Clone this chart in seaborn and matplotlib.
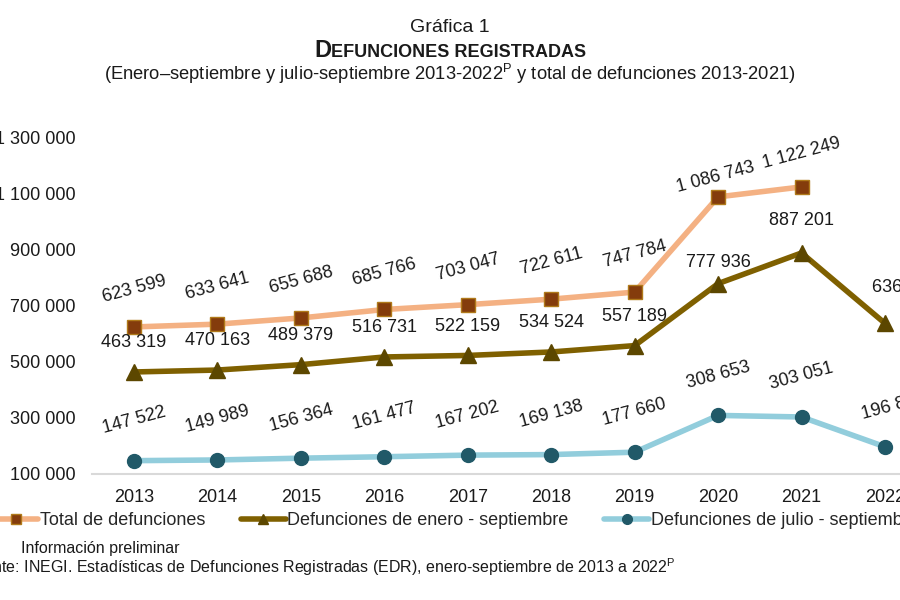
import numpy as np
import pandas as pd
import matplotlib
matplotlib.use("Agg")
import matplotlib.pyplot as plt
import seaborn as sns

# Datos
anios = ['2013', '2014', '2015', '2016', '2017', '2018', '2019', '2020', '2021', '2022']
total = [623599, 633641, 655688, 685766, 703047, 722611, 747784, 1086743, 1122249, np.nan]
enero_sep = [463319, 470163, 489379, 516731, 522159, 534524, 557189, 777936, 887201, 636486]
julio_sep = [147522, 149989, 156364, 161477, 167202, 169138, 177660, 308653, 303051, 196887]
yticks = [100000, 300000, 500000, 700000, 900000, 1100000, 1300000]

sns.set_style("white")
plt.rcParams['font.family'] = ['Liberation Sans', 'DejaVu Sans']
plt.rcParams['mathtext.fontset'] = 'custom'
plt.rcParams['mathtext.rm'] = 'Liberation Sans'

fig = plt.figure(figsize=(9, 6), dpi=100)
# el eje se sale del lienzo a la derecha, como en el recorte original
ax = fig.add_axes([92.3 / 900, 126 / 600, 834.4 / 900, 337 / 600])


def fmt(v):
    return f"{int(v):,}".replace(",", " ")


series = [
    ("Total de defunciones", total, '#F4B183', 's', '#843C0C', '#B07A1A', 10, 27, 15),
    ("Defunciones de enero - septiembre", enero_sep, '#7F6000', '^', '#5C4700', '#5C4700', 11, 21, 0),
    ("Defunciones de julio - septiembre", julio_sep, '#92CDDC', 'o', '#215968', '#215968', 10, 29, 15),
]

# ajustes manuales de algunas etiquetas (dx, dy en puntos)
ajustes = {
    (0, 7): (-2, -13), (0, 8): (0, -3),
    (1, 7): (0, -6), (1, 8): (0, 2), (1, 9): (14, 5),
    (2, 9): (6, 0),
}

for k, (nombre, valores, color, marca, cara, borde, ms, off, rot) in enumerate(series):
    sns.lineplot(x=anios, y=valores, ax=ax, sort=False, color=color, lw=4,
                 marker=marca, markersize=ms, markerfacecolor=cara,
                 markeredgecolor=borde, markeredgewidth=1, label=nombre)
    for i, v in enumerate(valores):
        if np.isnan(v):
            continue
        dx, dy = ajustes.get((k, i), (0, 0))
        ax.annotate(fmt(v), (i, v), xytext=(dx, off + dy), textcoords='offset points',
                    ha='center', va='center', rotation=rot, rotation_mode='anchor',
                    fontsize=13, color='#1A1A1A', annotation_clip=False)

ax.set_xlim(-0.5, 9.5)
ax.set_ylim(100000, 1300000)
ax.set_yticks(yticks)
ax.set_yticklabels([fmt(v) for v in yticks])
ax.tick_params(axis='y', length=0, pad=12, labelsize=13, labelcolor='#1A1A1A')
ax.tick_params(axis='x', length=0, pad=11, labelsize=13, labelcolor='#1A1A1A')
ax.set_xlabel('')
ax.set_ylabel('')
for lado in ['left', 'right', 'top']:
    ax.spines[lado].set_visible(False)
ax.spines['bottom'].set_color('#D9D9D9')
ax.spines['bottom'].set_linewidth(1.5)

handles, labels = ax.get_legend_handles_labels()
ax.get_legend().remove()
fig.legend(handles, labels, loc='center left', bbox_to_anchor=(-7 / 900, 0.132),
           ncol=3, frameon=False, fontsize=13, handlelength=2.5, handletextpad=0.1,
           columnspacing=1.95, borderpad=0, borderaxespad=0, markerscale=0.7)

# Titulos
fig.text(0.5, 0.955, 'Gráfica 1', ha='center', va='center', fontsize=14, color='#1A1A1A')
fig.canvas.draw()
r = fig.canvas.get_renderer()
t1 = fig.text(0, 0.905, 'D', ha='left', va='baseline', fontsize=17, fontweight='bold', color='#1A1A1A')
t2 = fig.text(0, 0.905, 'EFUNCIONES REGISTRADAS', ha='left', va='baseline', fontsize=13,
              fontweight='bold', color='#1A1A1A')
w1 = t1.get_window_extent(r).width / 900
w2 = t2.get_window_extent(r).width / 900
x0 = 0.5 - (w1 + w2) / 2
t1.set_x(x0)
t2.set_x(x0 + w1)
fig.text(0.5, 0.877,
         r'(Enero–septiembre y julio-septiembre 2013-2022$^{\mathrm{P}}$ y total de defunciones 2013-2021)',
         ha='center', va='center', fontsize=13.2, color='#1A1A1A')

# Notas al pie
fig.text(21 / 900, 0.085, 'Información preliminar', ha='left', va='center', fontsize=11.5, color='#1A1A1A')
fig.text(-35 / 900, 0.055,
         r'Fuente: INEGI. Estadísticas de Defunciones Registradas (EDR), enero-septiembre de 2013 a 2022$^{\mathrm{P}}$',
         ha='left', va='center', fontsize=11.5, color='#1A1A1A')

fig.savefig('out.png', dpi=100)
